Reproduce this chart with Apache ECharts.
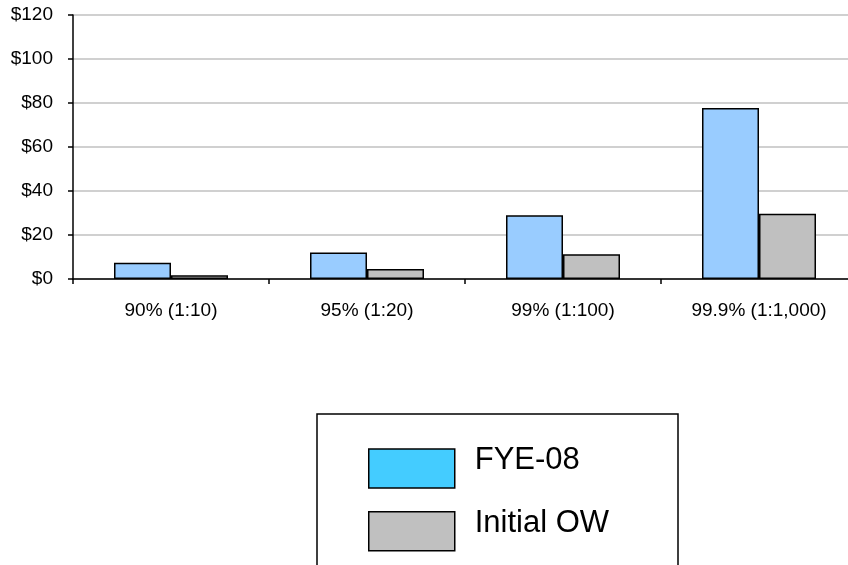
<!DOCTYPE html>
<html>
<head>
<meta charset="utf-8">
<script src="https://cdn.jsdelivr.net/npm/echarts@6/dist/echarts.min.js"></script>
<style>
  html, body { margin: 0; padding: 0; background: #fff; overflow: hidden; }
  /* the plot runs slightly past the right edge of the page */
  #chart { width: 857px; height: 565px; }
</style>
</head>
<body>
<div id="chart"></div>
<script>
// Confidence levels (return periods)
const categories = ['90% (1:10)', '95% (1:20)', '99% (1:100)', '99.9% (1:1,000)'];
// Loss estimates in $ millions
const fye08 = [7.4, 12.0, 29.0, 77.7];
const initialOW = [1.7, 4.5, 11.2, 29.7];
// Value axis ticks
const yTicks = [0, 20, 40, 60, 80, 100, 120];

const FONT = '"Liberation Sans", Arial, sans-serif';

const chart = echarts.init(document.getElementById('chart'), null, { renderer: 'canvas' });

chart.setOption({
  animation: false,
  backgroundColor: '#ffffff',
  textStyle: { fontFamily: FONT, color: '#000' },
  grid: { left: 73, top: 15, right: 0, height: 264, containLabel: false },
  xAxis: {
    type: 'category',
    data: categories,
    axisLine: { lineStyle: { color: '#000', width: 1.5 } },
    axisTick: { show: true, alignWithLabel: false, length: 5, lineStyle: { color: '#000', width: 1.5 } },
    axisLabel: { fontFamily: FONT, fontSize: 19, color: '#000', margin: 22 },
    splitLine: { show: false }
  },
  yAxis: {
    type: 'value',
    min: yTicks[0],
    max: yTicks[yTicks.length - 1],
    interval: yTicks[1] - yTicks[0],
    axisLine: { show: true, lineStyle: { color: '#000', width: 1.5 } },
    axisTick: { show: true, length: 5, lineStyle: { color: '#000', width: 1.5 } },
    axisLabel: {
      fontFamily: FONT, fontSize: 19, color: '#000', margin: 20,
      formatter: v => '$' + v
    },
    splitLine: { show: true, lineStyle: { color: '#c0c0c0', width: 1.5 } }
  },
  legend: {
    orient: 'vertical',
    left: 368,
    top: 445,
    padding: 0,
    itemWidth: 86,
    itemHeight: 39,
    itemGap: 19,
    selectedMode: false,
    icon: 'rect',
    data: [
      { name: 'FYE-08', itemStyle: { color: '#44CCFF', borderColor: '#000', borderWidth: 1.5 } },
      { name: 'Initial OW', itemStyle: { color: '#C0C0C0', borderColor: '#000', borderWidth: 1.5 } }
    ],
    formatter: name => '{t|' + name + '}',
    textStyle: {
      fontFamily: FONT, fontSize: 30, color: '#000',
      rich: {
        t: { fontFamily: FONT, fontSize: 31, color: '#000', padding: [0, 0, 16, 15] }
      }
    }
  },
  graphic: [{
    type: 'rect',
    z: -1,
    shape: { x: 317, y: 414, width: 361, height: 200 },
    style: { fill: '#ffffff', stroke: '#000', lineWidth: 1.5 }
  }],
  series: [
    {
      name: 'FYE-08',
      type: 'bar',
      data: fye08,
      barWidth: 57,
      barGap: '0%',
      itemStyle: { color: '#99CCFF', borderColor: '#000', borderWidth: 1.5 }
    },
    {
      name: 'Initial OW',
      type: 'bar',
      data: initialOW,
      barWidth: 57,
      barGap: '0%',
      itemStyle: { color: '#C0C0C0', borderColor: '#000', borderWidth: 1.5 }
    }
  ]
});
</script>
</body>
</html>
